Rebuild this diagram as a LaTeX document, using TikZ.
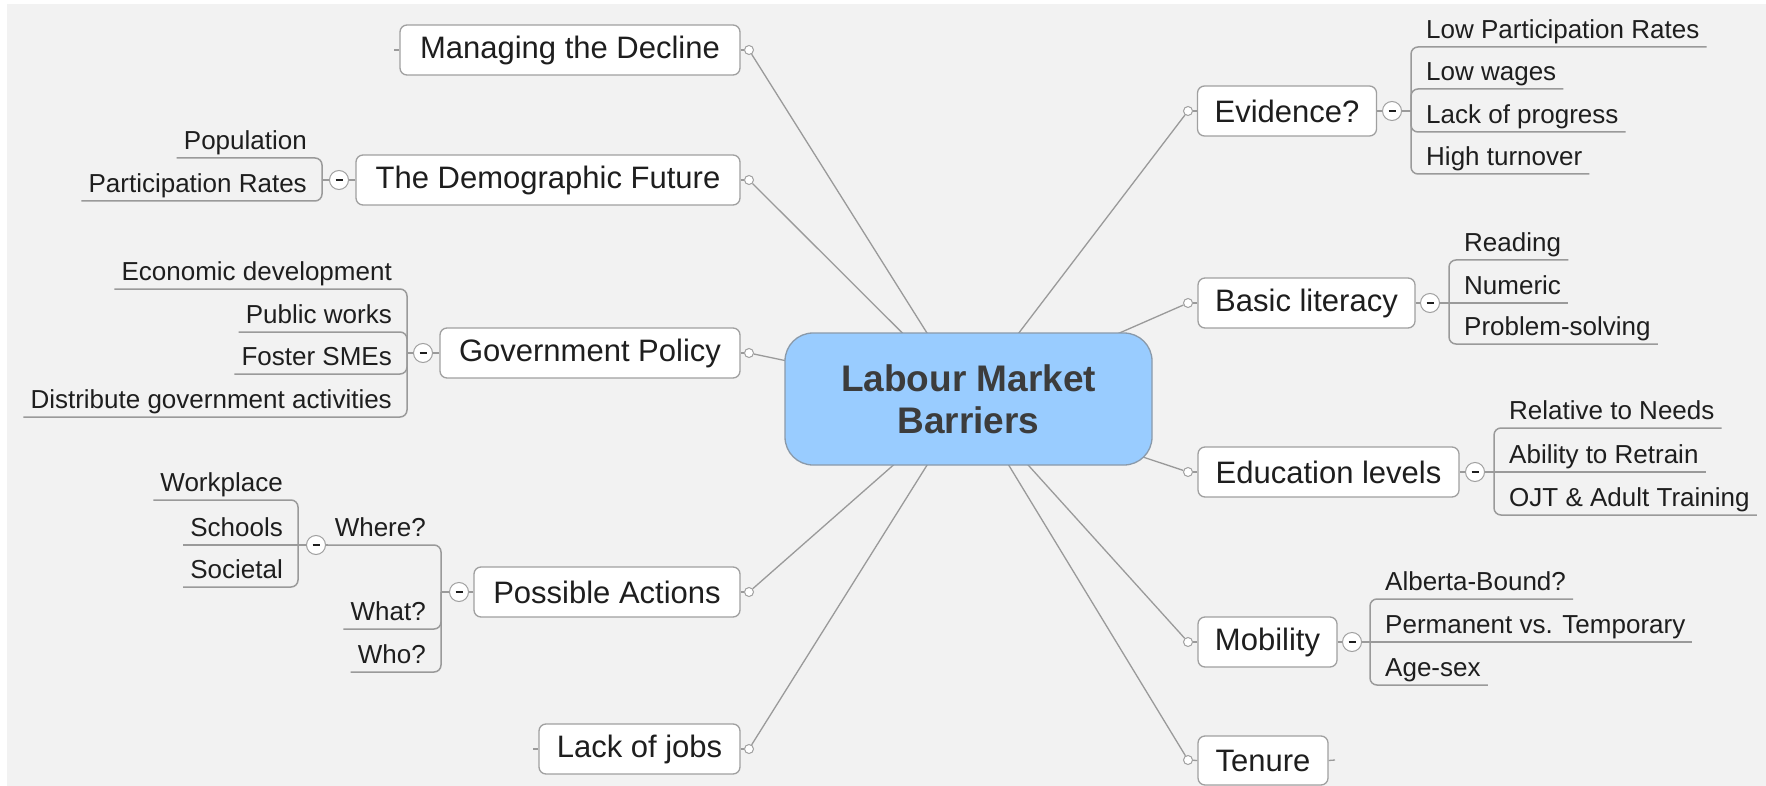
\documentclass[tikz,border=0pt]{standalone}
\usepackage{fontspec}
\setmainfont{Liberation Sans}
\usetikzlibrary{calc}
\definecolor{bggray}{HTML}{F2F2F2}
\definecolor{linegray}{HTML}{9A9A9A}
\definecolor{boxgray}{HTML}{A0A0A0}
\definecolor{txt}{HTML}{1E1E1E}
\definecolor{ctxt}{HTML}{3C3C3C}
\definecolor{cfill}{HTML}{99CCFF}
\definecolor{cdraw}{HTML}{8A9AAA}
\pgfdeclarelayer{lines}
\pgfsetlayers{lines,main}
\tikzset{
  topic/.style={draw=boxgray, line width=1.3pt, fill=white, rounded corners=7pt,
    minimum height=50pt, inner sep=0pt, font=\fontsize{31}{36}\selectfont, text=txt},
  sub/.style={inner xsep=7pt, inner ysep=0pt, text height=19pt, text depth=8pt,
    font=\fontsize{26}{30}\selectfont, text=txt},
  dot/.style={circle, draw=boxgray, fill=white, line width=1pt, inner sep=0pt, minimum size=9pt},
  minus/.style={circle, draw=boxgray, fill=white, line width=1pt, inner sep=0pt, minimum size=19pt,
    path picture={\draw[line width=1.6pt, txt] ([xshift=-3.5pt]path picture bounding box.center) -- ([xshift=3.5pt]path picture bounding box.center);}},
  conn/.style={draw=linegray, line width=1.3pt},
  ul/.style={draw=linegray, line width=1.5pt},
  bracket/.style={ul, rounded corners=7pt},
  central/.style={draw=cdraw, line width=1.3pt, fill=cfill, rounded corners=28pt,
    minimum width=367pt, minimum height=132pt, inner sep=0pt, align=center,
    font=\fontsize{37}{42}\selectfont\bfseries, text=ctxt}
}
% left child: #1 minus node, #2 bracket x, #3 minus y, #4 name, #5 child y, #6 text
\newcommand\lkid[6]{%
  \node[sub, anchor=south east] (#4) at (#2-8,#5) {#6};
  \draw[ul] (#1.west) -- (#2,#3);
  \draw[bracket] (#2,#3) -- (#2,#5) -- (#4.south west);
}
\newcommand\lmid[5]{%
  \node[sub, anchor=south east] (#4) at (#2-8,#3) {#5};
  \draw[ul] (#1.west) -- (#4.south west);
}
\newcommand\rkid[6]{%
  \node[sub, anchor=south west] (#4) at (#2+8,#5) {#6};
  \draw[ul] (#1.east) -- (#2,#3);
  \draw[bracket] (#2,#3) -- (#2,#5) -- (#4.south east);
}
\newcommand\rmid[5]{%
  \node[sub, anchor=south west] (#4) at (#2+8,#3) {#5};
  \draw[ul] (#1.east) -- (#4.south east);
}
\begin{document}
\begin{tikzpicture}[x=1pt,y=-1pt]
\useasboundingbox (0,0) rectangle (1766,786);
\begin{pgfonlayer}{lines}
  \fill[white] (0,0) rectangle (1766,786);
  \fill[bggray] (7,4) rectangle (1766,786);
\end{pgfonlayer}

% central topic
\node[central] (c) at (968.5,399) {Labour Market\\Barriers};

% main topics
\node[topic, minimum width=340pt] (mgd) at (570,50) {Managing the Decline};
\node[topic, minimum width=384pt] (dem) at (548,180) {The Demographic Future};
\node[topic, minimum width=300pt] (gov) at (590,353) {Government Policy};
\node[topic, minimum width=266pt] (pos) at (607,592) {Possible Actions};
\node[topic, minimum width=201pt] (lack) at (639.5,749) {Lack of jobs};
\node[topic, minimum width=179pt] (evi) at (1287,111) {Evidence?};
\node[topic, minimum width=217pt] (lit) at (1306.5,303) {Basic literacy};
\node[topic, minimum width=261pt] (edu) at (1328.5,472) {Education levels};
\node[topic, minimum width=139pt] (mob) at (1267.5,642) {Mobility};
\node[topic, minimum width=130pt, minimum height=49pt] (ten) at (1263,760.5) {Tenure};

% attachment dots
\node[dot] (dmgd) at (749,50) {};
\node[dot] (ddem) at (749,180) {};
\node[dot] (dgov) at (749,353) {};
\node[dot] (dpos) at (749,592) {};
\node[dot] (dlack) at (749,749) {};
\node[dot] (devi) at (1188,111) {};
\node[dot] (dlit) at (1188,303) {};
\node[dot] (dedu) at (1188,472) {};
\node[dot] (dmob) at (1188,642) {};
\node[dot] (dten) at (1188,760) {};
\foreach \t in {mgd,dem,gov,pos,lack} {\draw[conn] (\t.east) -- (d\t);}
\foreach \t in {evi,lit,edu,mob,ten} {\draw[conn] (\t.west) -- (d\t);}

% connectors from the central topic
\begin{pgfonlayer}{lines}
\foreach \t in {mgd,dem,gov,pos,lack,evi,lit,edu,mob,ten} {\draw[conn] (c.center) -- (d\t);}
\end{pgfonlayer}

% stubs
\coordinate (smgd) at (394,50);
\coordinate (slack) at (533,749);
\coordinate (sten) at (1335,760);
\draw[conn] (smgd) -- (mgd.west);
\draw[conn] (slack) -- (lack.west);
\draw[conn] (ten.east) -- (sten);

% minus markers
\node[minus] (mdem) at (339,180) {};
\node[minus] (mgov) at (423,353) {};
\node[minus] (mpos) at (459,592) {};
\node[minus] (mwhere) at (316,545) {};
\node[minus] (mevi) at (1392,111) {};
\node[minus] (mlit) at (1430,303) {};
\node[minus] (medu) at (1475,472) {};
\node[minus] (mmob) at (1352,642) {};
\draw[conn] (dem.west) -- (mdem);
\draw[conn] (gov.west) -- (mgov);
\draw[conn] (pos.west) -- (mpos);
\draw[conn] (evi.east) -- (mevi);
\draw[conn] (lit.east) -- (mlit);
\draw[conn] (edu.east) -- (medu);
\draw[conn] (mob.east) -- (mmob);

% The Demographic Future
\lkid{mdem}{322}{180}{pop}{158}{Population}
\lkid{mdem}{322}{180}{par}{201}{Participation Rates}

% Government Policy
\lkid{mgov}{407}{353}{eco}{289}{Economic development}
\lkid{mgov}{407}{353}{pub}{332}{Public works}
\lkid{mgov}{407}{353}{fos}{374}{Foster SMEs}
\lkid{mgov}{407}{353}{dis}{417}{Distribute government activities}

% Possible Actions
\lkid{mpos}{441}{592}{where}{545}{Where?}
\lkid{mpos}{441}{592}{what}{629}{What?}
\lkid{mpos}{441}{592}{who}{672}{Who?}
\draw[ul] (where.south west) -- (mwhere.east);
\lkid{mwhere}{298}{545}{wpl}{500}{Workplace}
\lmid{mwhere}{298}{545}{sch}{Schools}
\lkid{mwhere}{298}{545}{soc}{587}{Societal}

% Evidence?
\rkid{mevi}{1411}{111}{lpr}{47}{Low Participation Rates}
\rkid{mevi}{1411}{111}{lwa}{89}{Low wages}
\rkid{mevi}{1411}{111}{lop}{132}{Lack of progress}
\rkid{mevi}{1411}{111}{htu}{174}{High turnover}

% Basic literacy
\rkid{mlit}{1449}{303}{rea}{260}{Reading}
\rmid{mlit}{1449}{303}{num}{Numeric}
\rkid{mlit}{1449}{303}{prs}{344}{Problem-solving}

% Education levels
\rkid{medu}{1494}{472}{rtn}{428}{Relative to Needs}
\rmid{medu}{1494}{472}{atr}{Ability to Retrain}
\rkid{medu}{1494}{472}{ojt}{515}{OJT \& Adult Training}

% Mobility
\rkid{mmob}{1370}{642}{alb}{599}{Alberta-Bound?}
\rmid{mmob}{1370}{642}{pvt}{Permanent vs. Temporary}
\rkid{mmob}{1370}{642}{age}{685}{Age-sex}
\end{tikzpicture}
\end{document}
